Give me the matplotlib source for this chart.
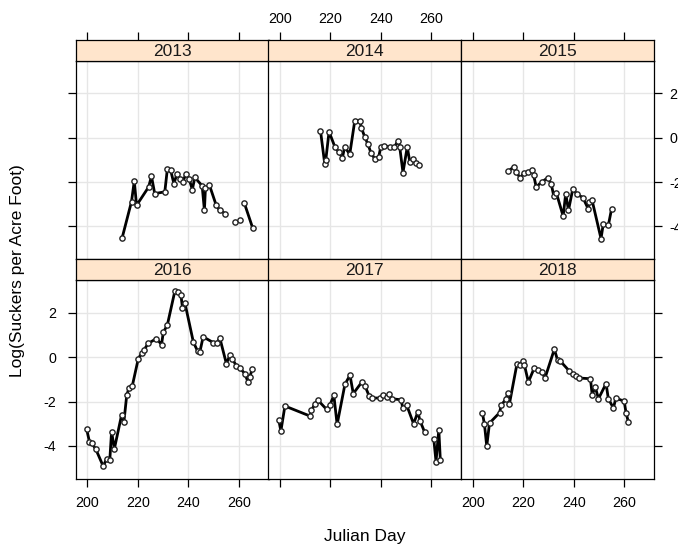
import numpy as np
import matplotlib
matplotlib.use("Agg")
import matplotlib.pyplot as plt

nan = np.nan
plt.rcParams['font.family'] = ['Liberation Sans', 'DejaVu Sans']
plt.rcParams['axes.unicode_minus'] = False

years = ["2013", "2014", "2015", "2016", "2017", "2018"]

day_2013 = [213.8, 217.5, 218.6, 219.5, 224.3, 225.4, 226.7, 230.7, 231.7, 233.0, 234.3, 235.5,
            236.6, 237.9, 239.0, 240.3, 241.6, 242.6, 245.5, 246.4, 246.8, 248.4, 251.0, 252.4,
            254.7, nan, 258.6, nan, 260.7, nan, 262.2, 265.5]
val_2013 = [-4.51, -2.88, -1.95, -3.05, -2.22, -1.73, -2.52, -2.44, -1.42, -1.46, -2.07, -1.64,
            -1.84, -1.99, -1.64, -1.84, -2.34, -1.79, -2.17, -3.27, -2.28, -2.14, -3.02, -3.27,
            -3.42, nan, -3.80, nan, -3.73, nan, -2.94, -4.06]

day_2014 = [216.1, 217.8, 218.2, 219.5, 221.8, 223.4, 224.8, 225.7, 227.7, 229.7, 231.7, 232.3,
            233.6, 234.9, 236.2, 237.6, 239.2, 240.0, 241.3, 243.5, 245.3, 246.8, 247.5, 248.8,
            250.5, 251.5, 252.8, 254.1, 255.0]
val_2014 = [0.32, -1.19, -1.01, 0.27, -0.41, -0.66, -0.90, -0.41, -0.75, 0.77, 0.77, 0.45,
            0.05, -0.29, -0.71, -0.94, -0.86, -0.41, -0.38, -0.41, -0.44, -0.14, -0.41, -1.57,
            -0.41, -1.09, -0.94, -1.13, -1.24]

day_2015 = [214.1, 216.2, 217.2, 218.7, 220.4, 221.8, 223.5, 224.1, 225.1, 227.3, 229.7, 231.1,
            232.1, 233.1, 235.8, 236.8, 237.9, 239.6, 241.4, 243.6, 245.7, 246.2, 247.2, 250.8,
            251.7, 253.7, 255.0]
val_2015 = [-1.51, -1.31, -1.54, -1.81, -1.58, -1.54, -1.46, -1.69, -2.22, -1.99, -1.81, -2.10,
            -2.64, -2.49, -3.54, -2.52, -3.27, -2.32, -2.55, -2.70, -3.20, -2.90, -2.79, -4.55,
            -3.88, -3.95, -3.20]

day_2016 = [199.7, 200.8, 201.7, 203.4, 206.3, 207.6, 208.9, 209.6, 210.7, 213.6, 214.5, 215.6,
            216.5, 217.8, 220.2, 221.5, 222.4, 224.1, 227.4, 229.4, 230.1, 231.7, 234.7, 236.0,
            237.1, 237.7, 238.7, 242.0, 243.7, 244.6, 245.9, 249.9, 251.2, 252.5, 255.1, 256.5,
            257.5, 259.1, 260.4, 262.4, 263.7, 264.4, 265.4]
val_2016 = [-3.23, -3.80, -3.86, -4.16, -4.92, -4.58, -4.62, -3.35, -4.13, -2.59, -2.90, -1.72,
            -1.39, -1.30, -0.06, 0.17, 0.32, 0.62, 0.84, 0.57, 1.12, 1.45, 2.99, 2.96,
            2.81, 2.23, 2.43, 0.69, 0.27, 0.24, 0.92, 0.66, 0.62, 0.87, -0.29, 0.09,
            -0.09, -0.39, -0.48, -0.74, -1.12, -0.89, -0.51]

day_2017 = [199.6, 200.4, 202.0, 211.9, 212.5, 213.9, 215.2, 218.5, 219.8, 221.4, 222.7, 225.8,
            227.8, 229.1, 232.5, 233.8, 235.4, 236.4, 239.7, 240.8, 242.4, 243.3, 244.3, 248.1,
            248.7, 250.3, 253.0, 254.7, 255.6, 257.4, nan, 261.0, 261.9, 263.0, 263.6]
val_2017 = [-2.85, -3.33, -2.20, -2.65, -2.40, -2.10, -1.95, -2.35, -2.17, -1.72, -3.03, -1.22,
            -0.81, -1.64, -1.12, -1.31, -1.75, -1.84, -1.84, -1.69, -1.80, -1.64, -1.87, -1.92,
            -2.29, -2.17, -3.00, -2.47, -2.88, -3.38, nan, -3.68, -4.71, -3.26, -4.62]

day_2018 = [203.8, 204.6, 205.5, 206.6, 210.6, 211.2, 213.2, 213.9, 214.5, 217.5, 218.7, 219.8,
            220.4, 222.0, 224.4, 226.0, 227.3, 228.6, 232.3, 233.6, 234.7, 238.3, 239.6, 240.9,
            242.2, 246.6, 247.3, 248.5, 249.8, 252.8, 253.7, 255.7, 256.7, 260.0, 260.7, 261.6]
val_2018 = [-2.52, -3.03, -4.01, -2.97, -2.50, -2.17, -1.87, -1.60, -2.10, -0.29, -0.36, -0.18,
            -0.33, -1.12, -0.47, -0.59, -0.66, -0.94, 0.36, -0.14, -0.18, -0.63, -0.74, -0.84,
            -0.94, -0.97, -1.69, -1.34, -1.87, -1.19, -1.87, -2.29, -1.84, -1.99, -2.50, -2.90]

days = [day_2013, day_2014, day_2015, day_2016, day_2017, day_2018]
vals = [val_2013, val_2014, val_2015, val_2016, val_2017, val_2018]

x_ticks = [200, 220, 240, 260]
y_ticks = [-4, -2, 0, 2]

W, H = 678, 548
fig = plt.figure(figsize=(W / 100, H / 100), dpi=100)

col_left = [75.5, 268.0, 461.0]
col_w = 193.0
row_strip_top = [39.5, 259.0]
strip_h = 21.0
panel_h = 199.0

strip_col = "#FFE5CC"
grid_col = "#E6E6E6"
tick_fs = 10.3
tick_len = 5.5

for i, yr in enumerate(years):
    r, c = divmod(i, 3)
    left = col_left[c]
    stop = row_strip_top[r]
    ptop = stop + strip_h
    ax = fig.add_axes([left / W, 1 - (ptop + panel_h) / H, col_w / W, panel_h / H])
    ax.set_xlim(195.3, 271.8)
    ax.set_ylim(-5.49, 3.48)
    for xv in x_ticks:
        ax.axvline(xv, color=grid_col, lw=1.0, zorder=0)
    for yv in y_ticks:
        ax.axhline(yv, color=grid_col, lw=1.0, zorder=0)
    ax.plot(days[i], vals[i], color="black", lw=2.0, zorder=2)
    ax.plot(days[i], vals[i], linestyle="none", marker="o", ms=3.8, mfc="white",
            mec="#222222", mew=1.0, zorder=3)
    for sp in ax.spines.values():
        sp.set_linewidth(0.9)
        sp.set_color("black")

    ax.set_xticks(x_ticks)
    ax.set_yticks(y_ticks)
    ax.tick_params(direction="out", length=tick_len, width=0.9, labelsize=tick_fs, colors="black")
    if r == 1:
        ax.tick_params(axis="x", bottom=True, labelbottom=(c != 1), top=False, labeltop=False, pad=6.5)
    else:
        ax.tick_params(axis="x", bottom=False, labelbottom=False, top=False, labeltop=False)
    ax.tick_params(axis="y", left=(c == 0), labelleft=(c == 0 and r == 1),
                   right=(c == 2), labelright=(c == 2 and r == 0))
    ax.tick_params(axis="y", which="major", pad=(8.6 if c == 0 else 5.8))

    sax = fig.add_axes([left / W, 1 - ptop / H, col_w / W, strip_h / H])
    sax.set_facecolor(strip_col)
    sax.set_xlim(195.3, 271.8)
    sax.set_ylim(0, 1)
    sax.set_yticks([])
    for sp in sax.spines.values():
        sp.set_linewidth(0.9)
        sp.set_color("black")
    sax.text(0.5, 0.45, yr, transform=sax.transAxes, ha="center", va="center", fontsize=12.5,
             color="#1a1a1a")
    if r == 0:
        sax.set_xticks(x_ticks)
        sax.tick_params(axis="x", bottom=False, labelbottom=False, top=True,
                        labeltop=(c == 1), direction="out", length=tick_len, width=0.9,
                        labelsize=tick_fs, pad=4.3, colors="black")
    else:
        sax.set_xticks([])

fig.text(365 / W, 1 - 537 / H, "Julian Day", ha="center", va="center", fontsize=12.5)
fig.text(18 / W, 1 - 271 / H, "Log(Suckers per Acre Foot)", ha="center", va="center",
         rotation=90, fontsize=12.5)

fig.savefig("out.png", dpi=100)
